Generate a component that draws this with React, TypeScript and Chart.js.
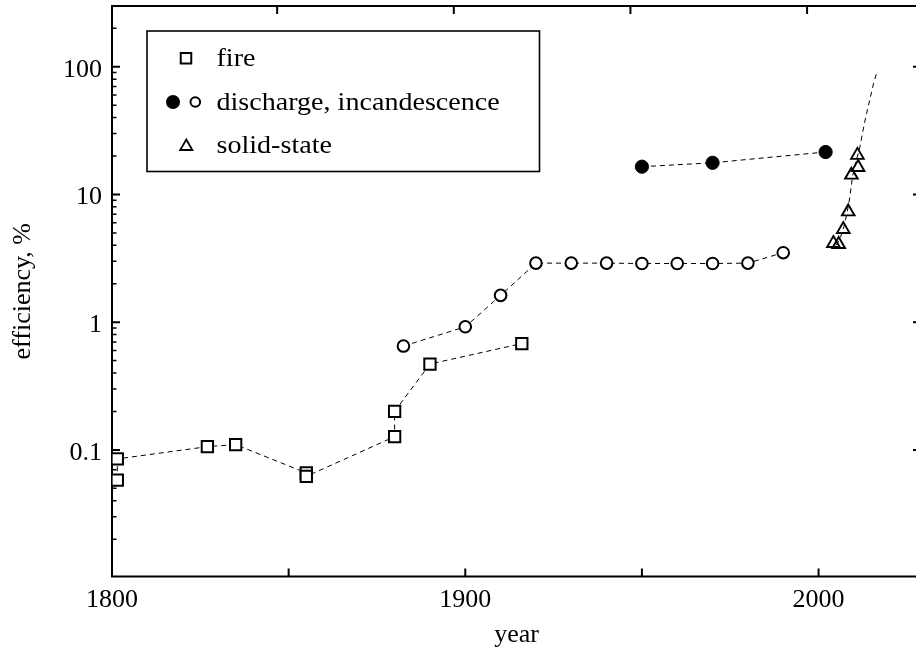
import React, { useEffect, useRef } from "react";
import { Chart, registerables } from "chart.js";

Chart.register(...registerables);

// ---------- data ----------
const fireYears = [1801.5, 1801.5, 1827, 1835, 1855, 1855, 1880, 1880, 1890, 1916];
const fireEff = [0.058, 0.085, 0.106, 0.11, 0.066, 0.062, 0.127, 0.2, 0.47, 0.68];

const incandYears = [1882.5, 1900, 1910, 1920, 1930, 1940, 1950, 1960, 1970, 1980, 1990];
const incandEff = [0.65, 0.92, 1.62, 2.9, 2.9, 2.9, 2.88, 2.88, 2.88, 2.9, 3.5];

const dischargeYears = [1950, 1970, 2002];
const dischargeEff = [16.5, 17.7, 21.5];

const solidYears = [2004.2, 2005.7, 2007, 2008.4, 2009.3, 2011.2, 2011];
const solidEff = [4.14, 4.07, 5.33, 7.32, 14.2, 16.3, 20.3];

const trendYears = [2005, 2006.1, 2007.5, 2008.7, 2009.8, 2011.7, 2012.6, 2013.6, 2014.7, 2015.7, 2016.6];
const trendEff = [4.0, 4.56, 6.08, 9.04, 14.6, 23.6, 31.9, 43.1, 58.1, 76.2, 92.4];

const xLabelYears = [1800, 1900, 2000];
const xTickYears = [1800, 1850, 1900, 1950, 2000];
const topTickShift = 3.25; // top-axis ticks are slightly offset in the reference
const yLabelValues = [0.1, 1, 10, 100];
const yMinorMultipliers = [2, 3, 4, 5, 6, 7, 8, 9];
const legendLabels = ["fire", "discharge, incandescence", "solid-state"];

const X_MIN = 1800;
const X_MAX = 2029;
const Y_MIN = 0.0102;
const Y_MAX = 299;

const FONT_FAMILY = '"Liberation Serif", "Times New Roman", serif';
const FONT_SIZE = 26;

const pts = (xs: number[], ys: number[]) => xs.map((x, i) => ({ x, y: ys[i] }));

// ---------- helpers for legend markers ----------
function drawSquare(ctx: CanvasRenderingContext2D, x: number, y: number, side: number) {
  ctx.beginPath();
  ctx.rect(x - side / 2, y - side / 2, side, side);
  ctx.fillStyle = "#fff";
  ctx.fill();
  ctx.stroke();
}
function drawCircle(ctx: CanvasRenderingContext2D, x: number, y: number, r: number, filled: boolean) {
  ctx.beginPath();
  ctx.arc(x, y, r, 0, Math.PI * 2);
  ctx.fillStyle = filled ? "#000" : "#fff";
  ctx.fill();
  ctx.stroke();
}
function drawTriangle(ctx: CanvasRenderingContext2D, x: number, y: number, r: number) {
  ctx.beginPath();
  for (let i = 0; i < 3; i++) {
    const a = (i * 2 * Math.PI) / 3;
    const px = x + Math.sin(a) * r;
    const py = y - Math.cos(a) * r;
    if (i === 0) ctx.moveTo(px, py);
    else ctx.lineTo(px, py);
  }
  ctx.closePath();
  ctx.stroke();
}

const frameTicksPlugin = {
  id: "frameTicks",
  beforeDatasetsDraw(chart: any) {
    const { ctx, chartArea: a, scales } = chart;
    const xs = scales.x;
    const ys = scales.y;
    ctx.save();
    ctx.strokeStyle = "#000";
    ctx.lineWidth = 2;
    ctx.strokeRect(a.left, a.top, a.right - a.left, a.bottom - a.top);

    // x ticks (inward)
    ctx.lineWidth = 2;
    for (const yr of xTickYears) {
      const pb = xs.getPixelForValue(yr);
      if (pb > a.left + 2 && pb < a.right - 2) {
        ctx.beginPath();
        ctx.moveTo(pb, a.bottom);
        ctx.lineTo(pb, a.bottom - 8);
        ctx.stroke();
      }
      const pt = xs.getPixelForValue(yr - topTickShift);
      if (pt > a.left + 2 && pt < a.right - 2) {
        ctx.beginPath();
        ctx.moveTo(pt, a.top);
        ctx.lineTo(pt, a.top + 8);
        ctx.stroke();
      }
    }

    // y ticks (inward, major + minor)
    for (let e = -2; e <= 2; e++) {
      const decade = Math.pow(10, e);
      const list = [1, ...yMinorMultipliers];
      for (const m of list) {
        const v = m * decade;
        if (v <= ys.min || v >= ys.max) continue;
        const py = ys.getPixelForValue(v);
        const major = m === 1;
        const len = major ? 8 : 4.5;
        ctx.lineWidth = major ? 2 : 1.5;
        ctx.beginPath();
        ctx.moveTo(a.left, py);
        ctx.lineTo(a.left + len, py);
        ctx.moveTo(a.right, py);
        ctx.lineTo(a.right - len, py);
        ctx.stroke();
      }
    }
    ctx.restore();
  },
  afterDraw(chart: any) {
    const { ctx, chartArea: a } = chart;
    ctx.save();
    ctx.strokeStyle = "#000";
    ctx.lineWidth = 1.6;
    const bx = a.left + 35;
    const by = a.top + 25;
    ctx.strokeRect(bx, by, 392.5, 140.5);

    const rows = [by + 27.3, by + 71, by + 114.7];
    ctx.font = `${FONT_SIZE}px ${FONT_FAMILY}`;
    ctx.fillStyle = "#000";
    ctx.textAlign = "left";
    ctx.textBaseline = "alphabetic";
    const textX = bx + 69.5;
    const stretch = 1.08;
    legendLabels.forEach((t, i) => {
      ctx.save();
      ctx.translate(textX, rows[i] + 7.5);
      ctx.scale(stretch, 1);
      ctx.fillStyle = "#000";
      ctx.fillText(t, 0, 0);
      ctx.restore();
    });

    ctx.lineWidth = 2;
    drawSquare(ctx, bx + 39, rows[0], 10.5);
    drawCircle(ctx, bx + 26, rows[1], 6, true);
    drawCircle(ctx, bx + 48.3, rows[1], 4.8, false);
    ctx.lineWidth = 1.8;
    drawTriangle(ctx, bx + 39.3, rows[2] + 0.8, 7);
    ctx.restore();
  },
};

const font = { family: FONT_FAMILY, size: FONT_SIZE };

export default function App() {
  const ref = useRef<HTMLCanvasElement | null>(null);

  useEffect(() => {
    if (!ref.current) return;
    const dash = [5, 4];
    const chart = new Chart(ref.current, {
      type: "scatter",
      data: {
        datasets: [
          {
            label: "fire",
            data: pts(fireYears, fireEff),
            showLine: true,
            borderColor: "#000",
            borderWidth: 1,
            borderDash: dash,
            pointStyle: "rect",
            pointRadius: 8,
            pointBorderWidth: 2,
            pointBorderColor: "#000",
            pointBackgroundColor: "#fff",
          },
          {
            label: "incandescence",
            data: pts(incandYears, incandEff),
            showLine: true,
            borderColor: "#000",
            borderWidth: 1,
            borderDash: dash,
            pointStyle: "circle",
            pointRadius: 5.8,
            pointBorderWidth: 2,
            pointBorderColor: "#000",
            pointBackgroundColor: "#fff",
          },
          {
            label: "discharge",
            data: pts(dischargeYears, dischargeEff),
            showLine: true,
            borderColor: "#000",
            borderWidth: 1,
            borderDash: dash,
            pointStyle: "circle",
            pointRadius: 6.6,
            pointBorderWidth: 1,
            pointBorderColor: "#000",
            pointBackgroundColor: "#000",
          },
          {
            label: "solid-state",
            data: pts(solidYears, solidEff),
            showLine: false,
            borderColor: "#000",
            pointStyle: "triangle",
            pointRadius: 7.3,
            pointBorderWidth: 1.9,
            pointBorderColor: "#000",
            pointBackgroundColor: "rgba(255,255,255,0)",
          },
          {
            label: "solid-state trend",
            data: pts(trendYears, trendEff),
            showLine: true,
            borderColor: "#000",
            borderWidth: 1,
            borderDash: dash,
            cubicInterpolationMode: "monotone",
            pointRadius: 0,
          },
        ],
      },
      options: {
        animation: false,
        responsive: false,
        devicePixelRatio: 1,
        events: [],
        layout: { autoPadding: false, padding: { left: 0, right: 4, top: 6, bottom: 0 } },
        plugins: {
          legend: { display: false },
          tooltip: { enabled: false },
        },
        scales: {
          x: {
            type: "linear",
            min: X_MIN,
            max: X_MAX,
            afterBuildTicks: (s: any) => {
              s.ticks = xLabelYears.map((v) => ({ value: v }));
            },
            afterFit: (s: any) => {
              s.height = 74.5;
              s.paddingLeft = 0;
              s.paddingRight = 0;
              s.paddingTop = 0;
              s.paddingBottom = 0;
            },
            ticks: {
              font,
              color: "#000",
              padding: 8,
              maxRotation: 0,
              autoSkip: false,
              callback: (v: any) => String(v),
            },
            grid: { display: false, drawTicks: false },
            border: { display: false },
            title: {
              display: true,
              text: "year",
              font,
              color: "#000",
              padding: { top: 0, bottom: 0 },
            },
          },
          y: {
            type: "logarithmic",
            min: Y_MIN,
            max: Y_MAX,
            afterBuildTicks: (s: any) => {
              s.ticks = yLabelValues.map((v) => ({ value: v }));
            },
            afterFit: (s: any) => {
              s.width = 112;
              s.paddingLeft = 0;
              s.paddingRight = 0;
              s.paddingTop = 0;
              s.paddingBottom = 0;
            },
            ticks: {
              font,
              color: "#000",
              padding: 10,
              labelOffset: 3,
              autoSkip: false,
              callback: (v: any) => String(v),
            },
            grid: { display: false, drawTicks: false },
            border: { display: false },
            title: {
              display: true,
              text: "efficiency, %",
              font,
              color: "#000",
              padding: { top: 8, bottom: 0 },
            },
          },
        },
      },
      plugins: [frameTicksPlugin],
    } as any);
    return () => chart.destroy();
  }, []);

  return (
    <div
      style={{
        position: "fixed",
        left: 0,
        top: 0,
        width: 916,
        height: 651,
        overflow: "hidden",
        background: "#fff",
      }}
    >
      <canvas ref={ref} width={925} height={651} style={{ display: "block", width: 925, height: 651 }} />
    </div>
  );
}
